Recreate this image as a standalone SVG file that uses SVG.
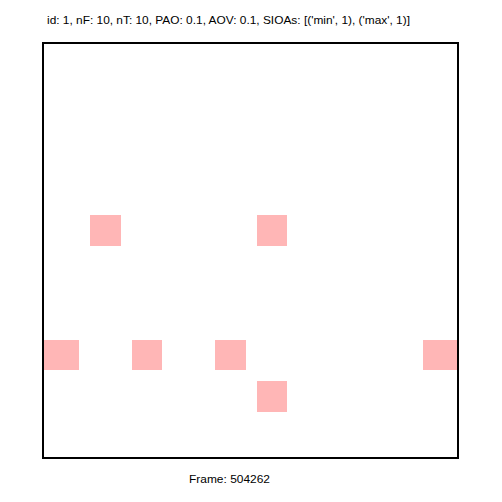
<svg xmlns="http://www.w3.org/2000/svg" width="502" height="502" viewBox="0 0 502 502">
<style>
.t{font-family:"Liberation Sans",Arial,sans-serif;font-size:11px;fill:#000}
.c{fill:#ffb6b6}
</style>
<rect width="502" height="502" fill="#fff"/>
<text class="t" x="47" y="24" textLength="363" lengthAdjust="spacingAndGlyphs">id: 1, nF: 10, nT: 10, PAO: 0.1, AOV: 0.1, SIOAs: [('min', 1), ('max', 1)]</text>
<g id="cells">
<rect class="c" x="90" y="215" width="31" height="31"/>
<rect class="c" x="257" y="215" width="30" height="31"/>
<rect class="c" x="43" y="340" width="36" height="30"/>
<rect class="c" x="132" y="340" width="30" height="30"/>
<rect class="c" x="215" y="340" width="31" height="30"/>
<rect class="c" x="423" y="340" width="35" height="30"/>
<rect class="c" x="257" y="381" width="30" height="31"/>
</g>
<rect id="frame" x="43" y="43" width="415" height="415" fill="none" stroke="#000" stroke-width="2"/>
<text class="t" x="189" y="483" textLength="81" lengthAdjust="spacingAndGlyphs">Frame: 504262</text>
</svg>
